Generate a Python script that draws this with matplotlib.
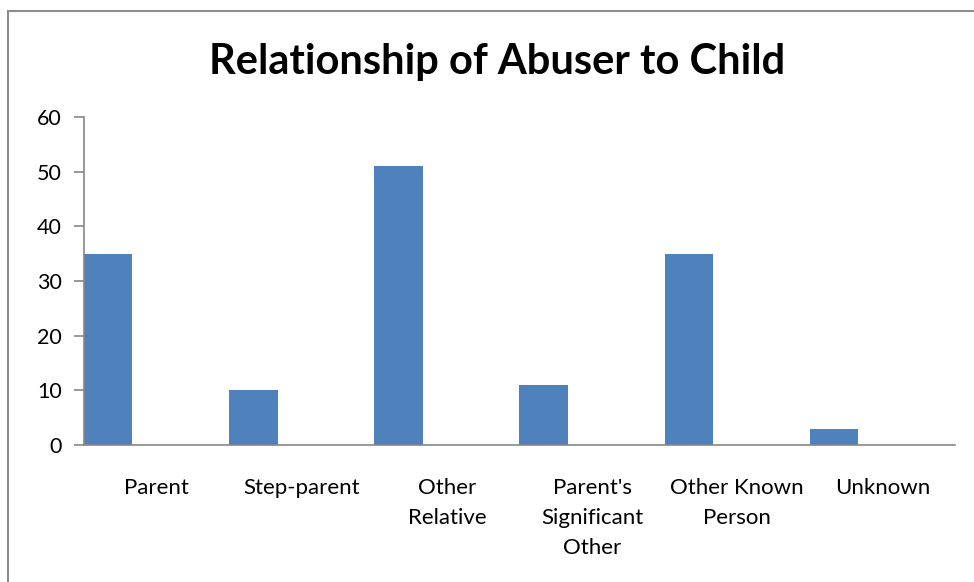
import matplotlib.pyplot as plt
import numpy as np
from matplotlib.patches import Rectangle

categories = ['Parent', 'Step-parent', 'Other\nRelative', "Parent's\nSignificant\nOther",
              'Other Known\nPerson', 'Unknown']
counts = [35, 10, 51, 11, 35, 3]
y_ticks = [0, 10, 20, 30, 40, 50, 60]

plt.rcParams['font.family'] = ['Lato', 'DejaVu Sans']

fig = plt.figure(figsize=(9.74, 5.82), dpi=100)
ax = fig.add_axes([84 / 974, 1 - 445 / 582, 871 / 974, 328 / 582])

x = np.arange(len(categories))
# bars sit in the left third of each category slot (Excel clustered look)
ax.bar(x - 0.5, counts, width=1 / 3, align='edge', color='#4F81BD')

ax.set_xlim(-0.5, len(categories) - 0.5)
ax.set_ylim(0, 60)
ax.set_yticks(y_ticks)
ax.set_xticks(x)
ax.set_xticklabels(categories, fontsize=16, linespacing=1.6, va='top')
ax.tick_params(axis='x', length=0, pad=24)
ax.tick_params(axis='y', length=7, width=1.2, color='#868686', labelsize=15.5, pad=9)

for side in ['top', 'right']:
    ax.spines[side].set_visible(False)
for side in ['left', 'bottom']:
    ax.spines[side].set_color('#868686')
    ax.spines[side].set_linewidth(1.2)

fig.text(497 / 974, 1 - 62 / 582, 'Relationship of Abuser to Child', ha='center', va='center',
         fontsize=30, fontweight='bold')

# outer chart frame (runs off the right and bottom edge)
fig.patches.append(Rectangle((8 / 974, -0.1), 1.2, 1 - 11 / 582 + 0.1, transform=fig.transFigure,
                             fill=False, edgecolor='#8c8c8c', linewidth=1.5))

fig.savefig('out.png', dpi=100)
